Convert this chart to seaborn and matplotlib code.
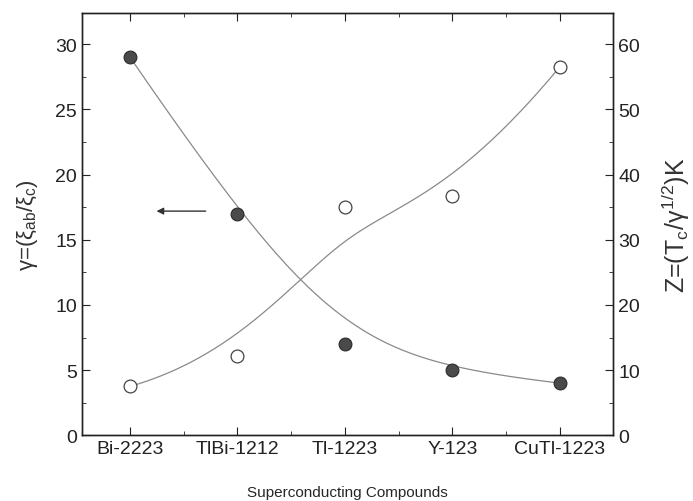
import numpy as np
import pandas as pd
import matplotlib.pyplot as plt
import seaborn as sns
from matplotlib.ticker import MultipleLocator

# Data
compounds = ["Bi-2223", "TlBi-1212", "Tl-1223", "Y-123", "CuTl-1223"]
gamma = [29.0, 17.0, 7.0, 5.0, 4.0]
z_vals = [7.5, 12.2, 35.0, 36.7, 56.5]

pos = np.arange(1, len(compounds) + 1)
df = pd.DataFrame({"pos": pos, "gamma": gamma, "z": z_vals})


def bspline(xs, ys, k=3, n=300):
    # clamped cubic B-spline using the data points as control points
    xs = np.asarray(xs, float)
    ys = np.asarray(ys, float)
    m = len(xs)
    inner = np.linspace(0, 1, m - k + 1)
    knots = np.concatenate([[0] * k, inner, [1] * k])
    t = np.linspace(0, 1, n)
    t[-1] = 1 - 1e-12

    def basis(i, p, tt):
        if p == 0:
            return ((knots[i] <= tt) & (tt < knots[i + 1])).astype(float)
        out = np.zeros_like(tt)
        d1 = knots[i + p] - knots[i]
        d2 = knots[i + p + 1] - knots[i + 1]
        if d1 > 0:
            out += (tt - knots[i]) / d1 * basis(i, p - 1, tt)
        if d2 > 0:
            out += (knots[i + p + 1] - tt) / d2 * basis(i + 1, p - 1, tt)
        return out

    B = np.array([basis(i, k, t) for i in range(m)])
    return B.T @ xs, B.T @ ys


sns.set_style("ticks")
plt.rcParams["font.family"] = ["Liberation Sans", "DejaVu Sans"]
plt.rcParams["mathtext.fontset"] = "custom"
plt.rcParams["mathtext.rm"] = "Liberation Sans"
plt.rcParams["mathtext.it"] = "Liberation Sans"

fig, ax = plt.subplots(figsize=(6.93, 5.02), dpi=100)
ax2 = ax.twinx()

gx, gy = bspline(df["pos"], df["gamma"])
zx, zy = bspline(df["pos"], df["z"])

sns.lineplot(x=gx, y=gy, ax=ax, color="#8a8a8a", lw=0.9, sort=False)
sns.scatterplot(data=df, x="pos", y="gamma", ax=ax, s=85, color="#4a4a4a",
                edgecolor="#2a2a2a", linewidth=0.8, zorder=5)

sns.lineplot(x=zx, y=zy, ax=ax2, color="#8a8a8a", lw=0.9, sort=False)
sns.scatterplot(data=df, x="pos", y="z", ax=ax2, s=85, color="white",
                edgecolor="#444444", linewidth=0.9, zorder=5)

ax.set_xlim(0.55, 5.5)
ax.set_ylim(0, 32.4)
ax2.set_ylim(0, 64.8)

ax.set_xticks(pos)
ax.set_xticklabels(compounds)
ax.xaxis.set_minor_locator(MultipleLocator(0.5))
ax.yaxis.set_major_locator(MultipleLocator(5))
ax.yaxis.set_minor_locator(MultipleLocator(2.5))
ax2.yaxis.set_major_locator(MultipleLocator(10))
ax2.yaxis.set_minor_locator(MultipleLocator(5))

for a in (ax, ax2):
    for s in a.spines.values():
        s.set_visible(True)
        s.set_linewidth(1.0)
        s.set_color("#222222")
ax.tick_params(axis="both", which="both", direction="in", top=True,
               labelsize=14, colors="#222222")
ax.tick_params(which="major", length=6)
ax.tick_params(which="minor", length=3)
ax2.tick_params(axis="y", which="both", direction="in", labelsize=14,
                colors="#222222")
ax2.tick_params(which="major", length=6)
ax2.tick_params(which="minor", length=3)

ax.set_xlabel("Superconducting Compounds", fontsize=11, labelpad=20)
ax.set_ylabel(r"$\gamma$=($\xi_{ab}$/$\xi_c$)", fontsize=16, labelpad=11,
              color="#333333")
ax2.set_ylabel(r"Z=(T$_c$/$\gamma^{1/2}$)K", fontsize=18, rotation=90,
               labelpad=14, color="#333333")

ax.annotate("", xy=(1.22, 17.2), xytext=(1.73, 17.2),
            arrowprops=dict(arrowstyle="-|>", color="#333333", lw=1.0,
                            mutation_scale=10))

fig.subplots_adjust(left=0.118, right=0.885, top=0.972, bottom=0.131)
fig.savefig("out.png", dpi=100)
